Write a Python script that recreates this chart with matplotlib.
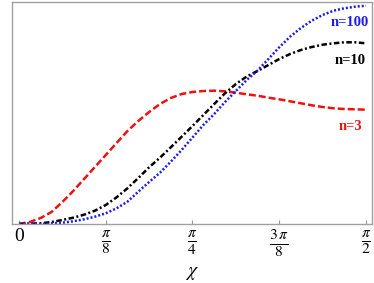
import numpy as np
from matplotlib import pyplot as plt

plt.rcParams['mathtext.fontset'] = 'stix'
plt.rcParams['font.family'] = 'Liberation Serif'

# data (chi in rad, curve heights in arbitrary units, top of box = 222)
chi = np.arange(33) * np.pi / 64
n3 = [0, 2, 6, 12, 22, 33, 45, 57, 69, 81, 93, 103, 112, 120, 126, 130, 132,
      133, 133.3, 132.7, 131.3, 129.7, 128.3, 126.3, 124.7, 122.7, 120.7,
      118.7, 117, 115.7, 115, 114.7, 114.3]
n10 = [0, 0.3, 0.7, 2, 4, 6.3, 9.3, 13.3, 19, 26.7, 35.7, 46, 56.7, 66.3, 76.7,
       87.3, 98, 109, 120, 130.7, 140, 147.5, 153, 159, 165, 170, 174, 177,
       179.3, 180.7, 181.7, 181.7, 180.7]
n100 = [0, 0, 0, 0.7, 1.3, 2.7, 4.7, 7.3, 10.7, 15.7, 22.3, 32.3, 42, 51.3,
        62.3, 74, 86.5, 99, 110, 122, 133, 144, 153.5, 165, 176.7, 187.3, 196,
        203.3, 209, 213.3, 215.7, 217.3, 218.3]

tick_pos = [0, np.pi/8, np.pi/4, 3*np.pi/8, np.pi/2]
tick_lab = ['0', r'$\frac{\pi}{8}$', r'$\frac{\pi}{4}$', r'$\frac{3\,\pi}{8}$', r'$\frac{\pi}{2}$']

fig = plt.figure(figsize=(3.74, 2.83), dpi=100)
ax = fig.add_axes([12/374, 1-224/283, 360/374, 222/283])

ax.plot(chi, n3, color='#ee1111', lw=1.8, ls=(0, (2.8, 1.2)))
ax.plot(chi, n10, color='black', lw=1.8, ls=(0, (2.2, 1, 0.8, 1)))
ax.plot(chi, n100, color='#1a1aee', lw=1.8, ls=(0, (0.8, 0.8)))

ax.text(1.4985, 201, 'n=100', color='#1a1aee', fontsize=10.5, fontweight='bold', ha='center', va='center')
ax.text(1.4985, 164, 'n=10', color='black', fontsize=10.5, fontweight='bold', ha='center', va='center')
ax.text(1.4985, 97.5, 'n=3', color='#ee1111', fontsize=10.5, fontweight='bold', ha='center', va='center')

ax.set_xlim(-0.0317, np.pi/2 + 0.0272)
ax.set_ylim(0, 222)
ax.set_xticks(tick_pos)
ax.set_xticklabels(tick_lab, fontsize=16)
ax.get_xticklabels()[0].set_fontsize(14)
ax.set_yticks([])
ax.tick_params(axis='x', direction='in', length=3, color='#999999', pad=3)
for s in ax.spines.values():
    s.set_color('#a0a0a0')
    s.set_linewidth(1)

ax.set_xlabel(r'$\chi$', fontsize=14, labelpad=4)

fig.savefig('out.png', dpi=100)
